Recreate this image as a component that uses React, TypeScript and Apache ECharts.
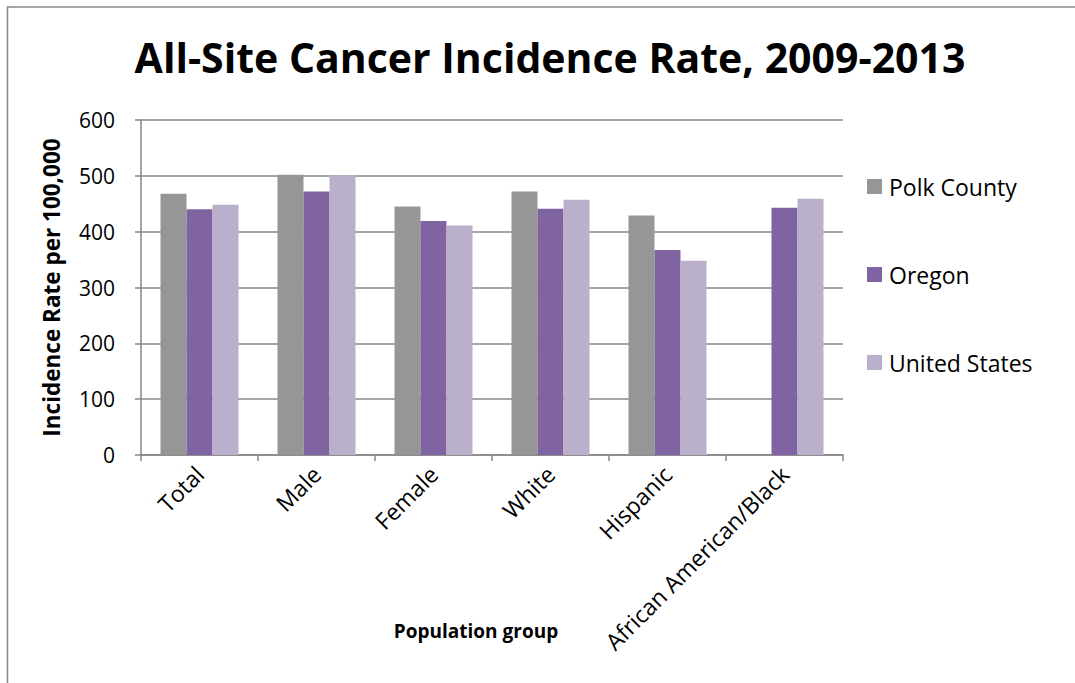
import React, { useEffect, useRef } from "react";
import * as echarts from "echarts";

const categories = ["Total", "Male", "Female", "White", "Hispanic", "African American/Black"];
const polkCounty = [468, 502, 445, 472, 429, null];
const oregon = [440, 472, 419, 441, 367, 443];
const unitedStates = [448, 501, 411, 457, 348, 459];
const yTicks = [0, 100, 200, 300, 400, 500, 600];

const FONT = "'Open Sans', Carlito, Lato, sans-serif";
const GRID_COLOR = "#878787";

export default function App() {
  const ref = useRef<HTMLDivElement>(null);
  useEffect(() => {
    if (!ref.current) return;
    const chart = echarts.init(ref.current, undefined, { renderer: "svg" });
    chart.setOption({
      animation: false,
      backgroundColor: "#ffffff",
      textStyle: { fontFamily: FONT },
      title: {
        text: "All-Site Cancer Incidence Rate, 2009-2013",
        left: 545,
        top: 31,
        textAlign: "center",
        textStyle: { fontFamily: FONT, fontWeight: "bold", fontSize: 41, color: "#000" },
      },
      graphic: [
        {
          type: "rect",
          shape: { x: 7.5, y: 7, width: 1200, height: 800 },
          style: { fill: "none", stroke: "#888888", lineWidth: 1.5 },
          silent: true,
        },
      ],
      legend: {
        orient: "vertical",
        left: 862,
        top: 170,
        itemGap: 65,
        itemWidth: 15,
        itemHeight: 15,
        icon: "rect",
        textStyle: { fontFamily: FONT, fontSize: 23, color: "#000", padding: [0, 0, 0, 2] },
        data: ["Polk County", "Oregon", "United States"],
      },
      grid: { left: 141, top: 120, width: 702, height: 335, containLabel: false },
      xAxis: {
        type: "category",
        data: categories,
        name: "Population group",
        nameLocation: "middle",
        nameGap: 166,
        nameMoveOverlap: false,
        nameTextStyle: { fontFamily: FONT, fontWeight: "bold", fontSize: 19, color: "#000", padding: [0, 32, 0, 0] },
        axisLine: { show: true, lineStyle: { color: GRID_COLOR, width: 1.5 } },
        axisTick: { show: true, length: 6, lineStyle: { color: GRID_COLOR, width: 1.5 } },
        axisLabel: {
          rotate: 45,
          interval: 0,
          margin: 15,
          fontFamily: FONT,
          fontSize: 23,
          color: "#000",
        },
      },
      yAxis: {
        type: "value",
        min: 0,
        max: 600,
        interval: 100,
        name: "Incidence Rate per 100,000",
        nameLocation: "middle",
        nameGap: 78,
        nameMoveOverlap: false,
        nameTextStyle: { fontFamily: FONT, fontWeight: "bold", fontSize: 22.5, color: "#000" },
        axisLine: { show: true, lineStyle: { color: GRID_COLOR, width: 1.5 } },
        axisTick: { show: true, length: 6, lineStyle: { color: GRID_COLOR, width: 1.5 } },
        splitLine: { show: true, lineStyle: { color: GRID_COLOR, width: 1.5 } },
        axisLabel: {
          margin: 26,
          fontFamily: FONT,
          fontSize: 21,
          color: "#000",
          formatter: (v: number) => (yTicks.includes(v) ? String(v) : ""),
        },
      },
      series: [
        {
          name: "Polk County",
          type: "bar",
          data: polkCounty,
          barWidth: 26,
          barGap: "0%",
          itemStyle: { color: "#969696" },
        },
        {
          name: "Oregon",
          type: "bar",
          data: oregon,
          barWidth: 26,
          barGap: "0%",
          itemStyle: { color: "#8064A2" },
        },
        {
          name: "United States",
          type: "bar",
          data: unitedStates,
          barWidth: 26,
          barGap: "0%",
          itemStyle: { color: "#BAB0CC" },
        },
      ],
    });
    return () => chart.dispose();
  }, []);
  return (
    <div
      ref={ref}
      style={{ position: "fixed", left: 0, top: 0, width: 1075, height: 683, background: "#fff" }}
    />
  );
}
